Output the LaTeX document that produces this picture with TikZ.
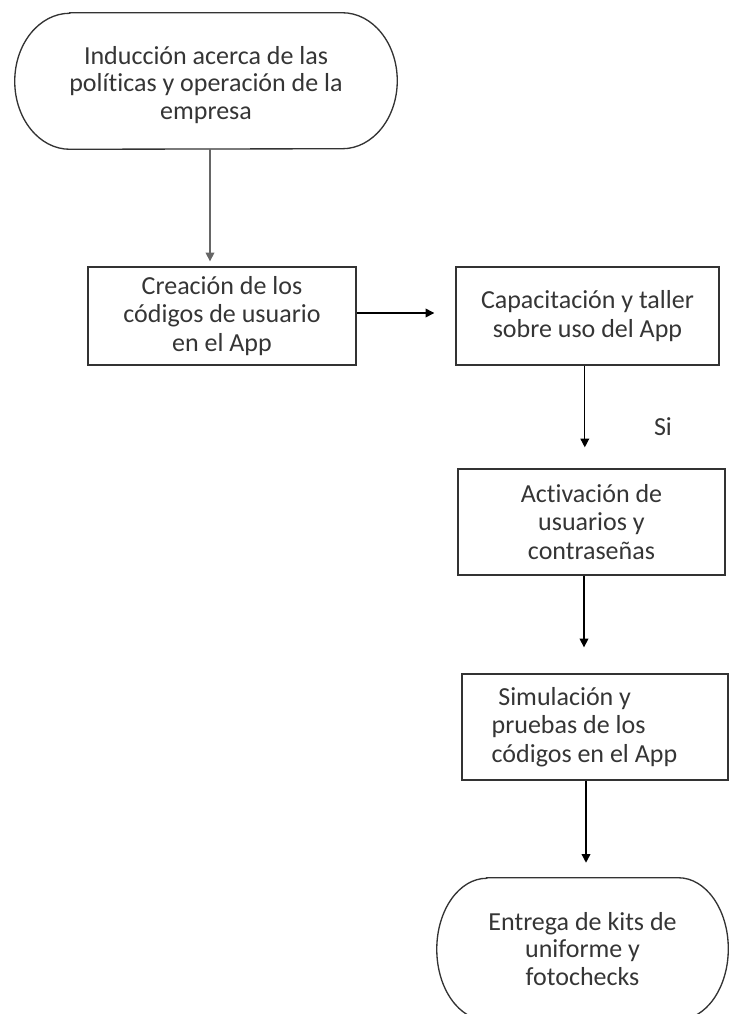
\documentclass[tikz,border=0pt]{standalone}
\usepackage{fontspec}
\setmainfont{Carlito}[Ligatures=NoCommon]
\usetikzlibrary{arrows.meta}
\definecolor{inkgray}{HTML}{333333}
\definecolor{txtgray}{HTML}{353535}
\tikzset{
  paso/.style={draw=inkgray,line width=1pt,text=txtgray,align=center,font=\fontsize{19.5}{21.3}\selectfont},
  extremo/.style={text=txtgray,align=center,font=\fontsize{19.5}{20.5}\selectfont},
  flecha/.style={line width=1pt,-{Triangle[length=6.5pt,width=6.5pt]}},
}
\begin{document}
\begin{tikzpicture}
\useasboundingbox (0,0) rectangle (547.5pt,-760.5pt);
\node[paso,minimum width=201pt,minimum height=73.5pt](crea) at (166.5pt,-237pt){Creación de los\\códigos de usuario\\en el App};
\node[extremo,minimum width=286.5pt,minimum height=102pt,above of = crea,node distance=176.25pt,xshift=-12pt,yshift=-3pt](ind){Inducción acerca de las\\políticas y operación de la\\empresa};
\node[paso,minimum width=197.25pt,minimum height=73.5pt,right of = crea,node distance=274.1pt](cap){Capacitación y taller\\sobre uso del App};
\node[paso,minimum width=200.25pt,minimum height=79.5pt,below of = cap,node distance=154.5pt,xshift=3pt](act){Activación de\\usuarios y\\contraseñas};
\node[paso,minimum width=199.5pt,minimum height=79.5pt,text width=155pt,inner xsep=22.25pt,align=flush left,below of = act,node distance=153.75pt,xshift=2.65pt](sim){\noindent\hspace*{5pt}Simulación y\\pruebas de los\\códigos en el App};
\node[extremo,minimum width=218.25pt,minimum height=106.5pt,below of = sim,node distance=166.5pt,xshift=-9.35pt](ent){Entrega de kits de\\uniforme y\\fotochecks};
\node[text=txtgray,font=\fontsize{19.5}{21.3}\selectfont](si) at (497.25pt,-320.25pt){Si};
% bordes de los extremos
\draw[inkgray,line width=1pt] ([xshift=41.25pt,yshift=3pt]ind.north west) -- ([xshift=-41.25pt,yshift=3pt]ind.north east)
  arc[start angle=90,end angle=-90,x radius=41.25pt,y radius=51pt]
  -- ([xshift=41.25pt,yshift=3pt]ind.south west)
  arc[start angle=270,end angle=90,x radius=41.25pt,y radius=51pt] -- cycle;
\draw[inkgray,line width=1pt] ([xshift=37.5pt]ent.north west) -- ([xshift=-37.5pt]ent.north east)
  arc[start angle=90,end angle=-90,x radius=37.5pt,y radius=53.25pt]
  -- ([xshift=37.5pt]ent.south west)
  arc[start angle=270,end angle=90,x radius=37.5pt,y radius=53.25pt] -- cycle;
% flechas
\coordinate(c1) at ([xshift=3pt,yshift=3.75pt]crea.north -| ind.south);
\coordinate(c2) at ([xshift=-15.75pt,yshift=2.25pt]cap.west);
\coordinate(c3) at ([xshift=-2pt,yshift=15.75pt]act.north -| cap.south);
\coordinate(c4) at ([xshift=-5.6pt,yshift=19.5pt]sim.north -| act.south);
\coordinate(c5) at ([xshift=-6.75pt,yshift=11.25pt]ent.north -| sim.south);
\draw[flecha,draw=gray!80!black,fill=black] ([xshift=3pt,yshift=3pt]ind.south) -- (c1);
\draw[flecha] ([yshift=2.25pt]crea.east) -- (c2);
\draw[flecha] ([xshift=-2pt]cap.south) -- (c3);
\draw[flecha] ([xshift=-5.6pt]act.south) -- (c4);
\draw[flecha] ([xshift=-6.75pt]sim.south) -- (c5);
\end{tikzpicture}
\end{document}
